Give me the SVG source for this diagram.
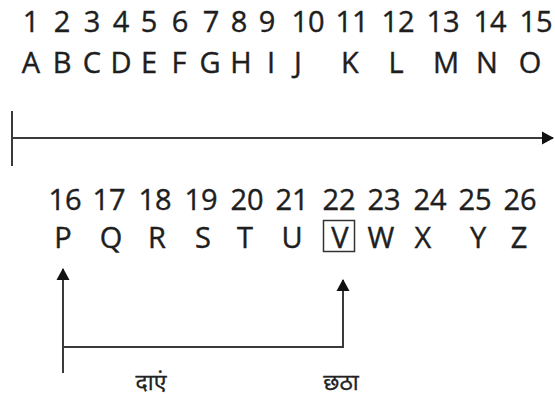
<svg xmlns="http://www.w3.org/2000/svg" width="555" height="399" viewBox="0 0 555 399">
<style>
.t{font-family:"Open Sans","Noto Sans","Liberation Sans",sans-serif;font-size:29px;fill:#1e1e1e;stroke:#1e1e1e;stroke-width:0.4px;text-anchor:middle}
.h{font-family:"Noto Sans","Noto Sans Devanagari","Lohit Devanagari",sans-serif;font-size:23px;fill:#222;stroke:#222;stroke-width:0.3px;text-anchor:middle}
.ln{stroke:#3a3a3a;stroke-width:2;fill:none}
</style>
<defs>
<marker id="ah" markerWidth="12" markerHeight="14" refX="11" refY="7" orient="auto" markerUnits="userSpaceOnUse">
<path d="M0,0.5 L12,7 L0,13.5 Z" fill="#111"/>
</marker>
</defs>
<rect width="555" height="399" fill="#fff"/>
<g id="row1-numbers">
<text class="t" x="31" y="32">1</text><text class="t" x="62" y="32">2</text><text class="t" x="92" y="32">3</text>
<text class="t" x="121" y="32">4</text><text class="t" x="149" y="32">5</text><text class="t" x="180" y="32">6</text>
<text class="t" x="211" y="32">7</text><text class="t" x="239" y="32">8</text><text class="t" x="267" y="32">9</text>
<text class="t" x="308" y="32">10</text><text class="t" x="352" y="32">11</text><text class="t" x="398" y="32">12</text>
<text class="t" x="443" y="32">13</text><text class="t" x="490" y="32">14</text><text class="t" x="536" y="32">15</text>
</g>
<g id="row1-letters">
<text class="t" x="31" y="73">A</text><text class="t" x="62" y="73">B</text><text class="t" x="92" y="73">C</text>
<text class="t" x="121" y="73">D</text><text class="t" x="149" y="73">E</text><text class="t" x="179" y="73">F</text>
<text class="t" x="210" y="73">G</text><text class="t" x="241" y="73">H</text><text class="t" x="271" y="73">I</text>
<text class="t" x="298" y="73">J</text><text class="t" x="350" y="73">K</text><text class="t" x="396" y="73">L</text>
<text class="t" x="446" y="73">M</text><text class="t" x="487" y="73">N</text><text class="t" x="530" y="73">O</text>
</g>
<g id="row2-numbers">
<text class="t" x="65" y="210">16</text><text class="t" x="109" y="210">17</text><text class="t" x="155" y="210">18</text>
<text class="t" x="201" y="210">19</text><text class="t" x="247" y="210">20</text><text class="t" x="292" y="210">21</text>
<text class="t" x="339" y="210">22</text><text class="t" x="384" y="210">23</text><text class="t" x="430" y="210">24</text>
<text class="t" x="475" y="210">25</text><text class="t" x="520" y="210">26</text>
</g>
<g id="row2-letters">
<text class="t" x="63" y="248">P</text><text class="t" x="111" y="248">Q</text><text class="t" x="157" y="248">R</text>
<text class="t" x="203" y="248">S</text><text class="t" x="245" y="248">T</text><text class="t" x="292" y="248">U</text>
<text class="t" x="340" y="248">V</text><text class="t" x="381" y="248">W</text><text class="t" x="423" y="248">X</text>
<text class="t" x="478" y="248">Y</text><text class="t" x="519" y="248">Z</text>
</g>
<g id="box-V"><rect x="323.5" y="220.5" width="31" height="31" fill="none" stroke="#333" stroke-width="1.5"/></g>
<g id="connectors">
<line class="ln" x1="12" y1="111" x2="12" y2="166"/>
<line class="ln" x1="12" y1="138" x2="553" y2="138" marker-end="url(#ah)"/>
<line class="ln" x1="63" y1="373" x2="63" y2="269" marker-end="url(#ah)"/>
<polyline class="ln" points="63,347 343,347 343,280" marker-end="url(#ah)"/>
</g>
<g id="labels">
<text class="h" x="151" y="390">दाएं</text>
<text class="h" x="341" y="390">छठा</text>
</g>
</svg>
